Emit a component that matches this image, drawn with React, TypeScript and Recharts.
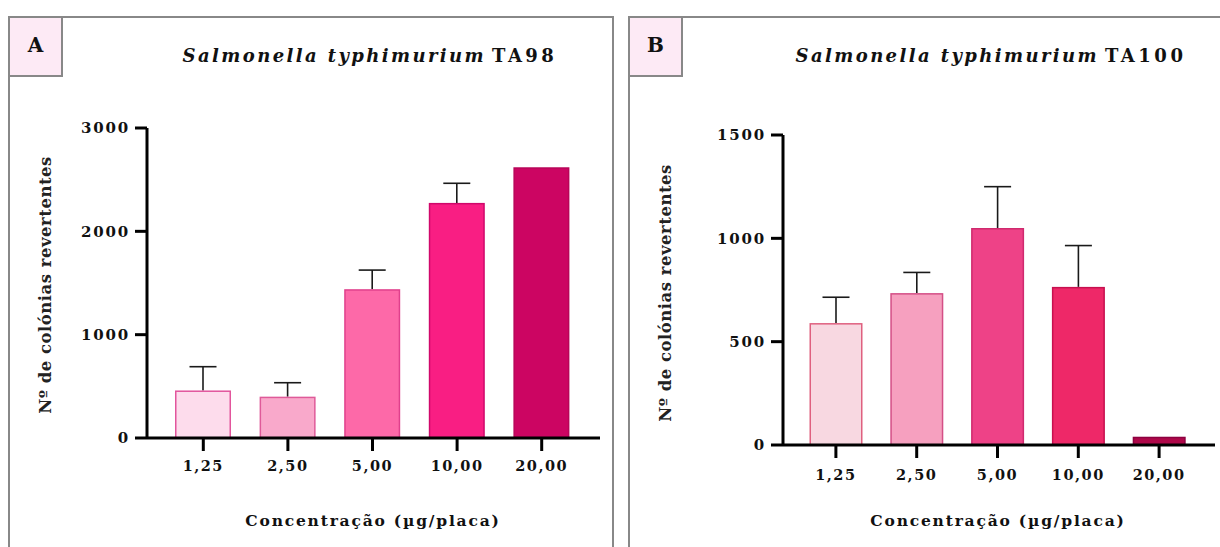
import { BarChart, Bar, XAxis, YAxis } from "recharts";

const categories = ["1,25", "2,50", "5,00", "10,00", "20,00"];

const ta98Mean = [460, 400, 1440, 2275, 2620];
const ta98Err = [230, 135, 185, 190, 0];
const ta98Ticks = [0, 1000, 2000, 3000];

const ta100Mean = [590, 735, 1050, 765, 40];
const ta100Err = [125, 100, 200, 200, 0];
const ta100Ticks = [0, 500, 1000, 1500];

const ta98Fill = ["#fddcec", "#f9a9cb", "#fd69a8", "#f91e83", "#cc0562"];
const ta98Stroke = ["#e2559c", "#df5a99", "#e0408c", "#d0086b", "#b80458"];
const ta100Fill = ["#f8d8e1", "#f6a0bf", "#ee4287", "#ee2868", "#ae0849"];
const ta100Stroke = ["#df607f", "#d44f86", "#cf2a6e", "#c7104f", "#8e0040"];

const serif = "'DejaVu Serif', Georgia, serif";

const makeShape = (fills: string[], strokes: string[]) => (props: any) => {
  const { x, y, width, height, index, payload } = props;
  const k = payload.mean ? height / payload.mean : 0;
  const top = y - payload.err * k;
  const cx = x + width / 2;
  return (
    <g>
      {payload.err > 0 && (
        <g stroke="#1a1a1a" strokeWidth={1.6}>
          <line x1={cx} x2={cx} y1={y} y2={top} />
          <line x1={cx - 13.5} x2={cx + 13.5} y1={top} y2={top} />
        </g>
      )}
      <rect
        x={x + 0.75}
        y={y + 0.75}
        width={width - 1.5}
        height={Math.max(height - 0.75, 0)}
        fill={fills[index]}
        stroke={strokes[index]}
        strokeWidth={1.5}
      />
    </g>
  );
};

const yTickStyle = {
  fill: "#111",
  fontSize: 15,
  fontWeight: 700,
  fontFamily: serif,
  letterSpacing: 1.8,
};

const xTickStyle = {
  fill: "#111",
  fontSize: 14.5,
  fontWeight: 700,
  fontFamily: serif,
  letterSpacing: 1.5,
};

type PanelProps = {
  letter: string;
  strain: string;
  left: number;
  width: number;
  means: number[];
  errs: number[];
  ticks: number[];
  fills: string[];
  strokes: string[];
  margin: { top: number; right: number; bottom: number; left: number };
  padding: { left: number; right: number };
  barSize: number;
  titleX: number;
  yTitle: { x: number; y: number };
  xTitleX: number;
  tickY: number;
};

const Panel = (p: PanelProps) => {
  const data = categories.map((c, i) => ({ name: c, mean: p.means[i], err: p.errs[i] }));
  return (
    <>
      <div
        style={{
          position: "absolute",
          left: p.left,
          top: 16,
          width: p.width,
          height: 540,
          boxSizing: "border-box",
          borderTop: "2px solid #888",
          borderLeft: "2px solid #888",
          borderRight: "2px solid #888",
        }}
      />
      <div
        style={{
          position: "absolute",
          left: p.left,
          top: 16,
          width: 55,
          height: 61,
          boxSizing: "border-box",
          background: "#fdeaf5",
          border: "2px solid #888",
          display: "flex",
          alignItems: "center",
          justifyContent: "center",
          fontFamily: serif,
          fontWeight: 700,
          fontSize: 20,
          color: "#111",
          paddingBottom: 3,
        }}
      >
        {p.letter}
      </div>
      <div
        style={{
          position: "absolute",
          left: p.titleX,
          top: 55,
          transform: "translate(-50%, -50%)",
          whiteSpace: "nowrap",
          fontFamily: serif,
          fontWeight: 700,
          fontSize: 18,
          color: "#111",
        }}
      >
        <span style={{ fontStyle: "italic", letterSpacing: 2.4 }}>Salmonella typhimurium</span>
        <span style={{ letterSpacing: 3.5, marginLeft: 6 }}>{p.strain}</span>
      </div>
      <div
        style={{
          position: "absolute",
          left: p.yTitle.x,
          top: p.yTitle.y,
          transform: "translate(-50%, -50%) rotate(-90deg)",
          whiteSpace: "nowrap",
          fontFamily: serif,
          fontWeight: 700,
          fontSize: 16.5,
          letterSpacing: 0.5,
          color: "#222",
        }}
      >
        Nº de colónias revertentes
      </div>
      <div
        style={{
          position: "absolute",
          left: p.xTitleX,
          top: 520,
          transform: "translate(-50%, -50%)",
          whiteSpace: "nowrap",
          fontFamily: serif,
          fontWeight: 700,
          fontSize: 15.5,
          letterSpacing: 1.8,
          color: "#111",
        }}
      >
        Concentração (µg/placa)
      </div>
      <div style={{ position: "absolute", left: p.left, top: 0 }}>
        <BarChart width={p.width} height={547} data={data} margin={p.margin} barSize={p.barSize}>
          <XAxis
            dataKey="name"
            height={30}
            padding={p.padding}
            axisLine={{ stroke: "#000", strokeWidth: 3 }}
            tickLine={{ stroke: "#000", strokeWidth: 3 }}
            tickSize={13}
            tickMargin={p.tickY}
            tick={xTickStyle}
            interval={0}
          />
          <YAxis
            type="number"
            domain={[0, p.ticks[p.ticks.length - 1]]}
            ticks={p.ticks}
            width={60}
            axisLine={{ stroke: "#000", strokeWidth: 3 }}
            tickLine={{ stroke: "#000", strokeWidth: 3 }}
            tickSize={12}
            tickMargin={5}
            tick={yTickStyle}
          />
          <Bar dataKey="mean" isAnimationActive={false} shape={makeShape(p.fills, p.strokes)} />
        </BarChart>
      </div>
    </>
  );
};

export default function App() {
  return (
    <div style={{ position: "absolute", left: 0, top: 0, width: 1220, height: 547, background: "#fff", overflow: "hidden" }}>
      <Panel
        letter="A"
        strain="TA98"
        left={8}
        width={606}
        means={ta98Mean}
        errs={ta98Err}
        ticks={ta98Ticks}
        fills={ta98Fill}
        strokes={ta98Stroke}
        margin={{ top: 128, right: 14, bottom: 79, left: 79 }}
        padding={{ left: 14, right: 16 }}
        barSize={56}
        titleX={370}
        yTitle={{ x: 45, y: 285 }}
        xTitleX={373}
        tickY={10}
      />
      <Panel
        letter="B"
        strain="TA100"
        left={628}
        width={600}
        means={ta100Mean}
        errs={ta100Err}
        ticks={ta100Ticks}
        fills={ta100Fill}
        strokes={ta100Stroke}
        margin={{ top: 135, right: 13, bottom: 72, left: 95 }}
        padding={{ left: 12.5, right: 15.5 }}
        barSize={53}
        titleX={991}
        yTitle={{ x: 665, y: 293 }}
        xTitleX={998}
        tickY={12}
      />
    </div>
  );
}
